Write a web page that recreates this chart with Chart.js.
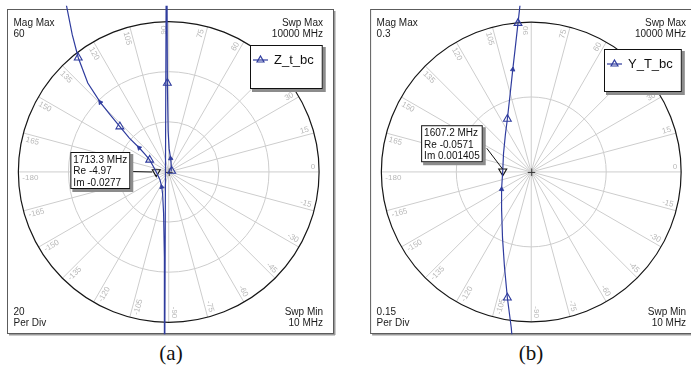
<!DOCTYPE html>
<html>
<head>
<meta charset="utf-8">
<title>Z_t_bc / Y_T_bc polar plots</title>
<script src="https://cdn.jsdelivr.net/npm/chart.js@4.4.1/dist/chart.umd.min.js"></script>
<style>
  html, body { margin:0; padding:0; background:#fff; }
  body { position:relative; width:691px; height:376px; overflow:hidden; }
  canvas { position:absolute; top:0; }
  #polarZ { left:0; }
  #polarY { left:345px; }
  .caption { position:absolute; top:341px; width:60px; margin-left:-30px; text-align:center;
             font:21px "Liberation Serif","Times New Roman",serif; color:#111; }
</style>
</head>
<body>
<canvas id="polarZ" width="345" height="340"></canvas>
<canvas id="polarY" width="346" height="340"></canvas>
<div class="caption" style="left:171px">(a)</div>
<div class="caption" style="left:531px">(b)</div>
<script>
// Angle ticks of the polar grid, degrees
const angleTicks = [0, 15, 30, 45, 60, 75, 90, 105, 120, 135, 150, 165,
                    -180, -165, -150, -135, -120, -105, -90, -75, -60, -45, -30, -15];
const sweepMin = '10 MHz';
const sweepMax = '10000 MHz';

// Z_t_bc trace (ohm): real and imaginary parts in sweep order
const zRe = [1.2, 1.0, 0.75, 0.15, -0.23, -0.54, -0.85, -1.75, -1.68, -1.78, -2.05, -2.43, -2.8, -3.5,
             -4.97, -6.2, -7.6, -9.6, -11.8, -15.7, -19.5, -23.5, -27.3, -32.3, -36.1, -38.5, -40.8, -43];
const zIm = [0.4, 2.8, 5.4, 9.3, 16.2, 35.5, 120, -120, -66.8, -34, -16.6, -8.9, -6.0, -3.1,
             -0.0277, 2.3, 4.8, 7.2, 9.65, 13.5, 18.1, 23, 27.8, 35.5, 45.6, 54.8, 66.4, 78];
const zSweepMarks = [0, 5, 16, 20, 24];   // samples carrying a sweep marker
const zArrows = [2, 12, 18, 22];          // samples carrying a direction arrow
const zMarkerFreq = '1713.3 MHz';
const zMarkerRe = -4.97;
const zMarkerIm = -0.0277;
const zMagMax = 60;
const zPerDiv = 20;

// Y_T_bc trace (S): real and imaginary parts in sweep order
const yRe = [-0.0381, -0.0400, -0.0478, -0.0536, -0.0575, -0.0594, -0.0594, -0.0571,
             -0.0555, -0.0517, -0.0478, -0.0430, -0.0370, -0.0323, -0.0265, -0.0226, -0.0200];
const yIm = [-0.335, -0.312, -0.252, -0.190, -0.132, -0.0735, -0.0348, 0.001405,
             0.0368, 0.0755, 0.106, 0.149, 0.205, 0.246, 0.298, 0.333, 0.36];
const ySweepMarks = [2, 10, 14];
const yArrows = [6, 12];
const yMarkerFreq = '1607.2 MHz';
const yMarkerRe = -0.0571;
const yMarkerIm = 0.001405;
const yMagMax = 0.3;
const yPerDiv = 0.15;

const TRACE = '#2f3c9e';
const FONT = '"Liberation Sans", Arial, sans-serif';

function triPath(ctx, x, y, r, down) {
  const s = down ? -1 : 1;
  ctx.beginPath();
  ctx.moveTo(x, y - s * r);
  ctx.lineTo(x + r * 0.866, y + s * r * 0.5);
  ctx.lineTo(x - r * 0.866, y + s * r * 0.5);
  ctx.closePath();
}

function shadowBox(ctx, x, y, w, h) {
  ctx.fillStyle = '#8c8c8c';
  ctx.fillRect(x + 2, y + 2, w + 1, h + 1);
  ctx.fillStyle = '#fff';
  ctx.fillRect(x, y, w, h);
  ctx.strokeStyle = '#111';
  ctx.lineWidth = 1;
  ctx.strokeRect(x + 0.5, y + 0.5, w - 1, h - 1);
}

// Polar grid, frame, corner notes, legend and marker callout
const polarPanel = {
  id: 'polarPanel',
  beforeDatasetsDraw(chart, args, o) {
    const { ctx, scales: { x, y } } = chart;
    const cx = x.getPixelForValue(0), cy = y.getPixelForValue(0);
    const R = x.getPixelForValue(o.magMax) - cx;
    ctx.save();

    // frame
    const f = o.frame;
    ctx.fillStyle = '#9a9a9a';
    ctx.fillRect(f.r, f.t + 2, 2.5, f.b - f.t);
    ctx.fillRect(f.l + 2, f.b, f.r - f.l, 2.5);
    ctx.strokeStyle = '#5c5c5c';
    ctx.lineWidth = 1;
    ctx.strokeRect(f.l + 0.5, f.t + 0.5, f.r - f.l, f.b - f.t);

    // spokes
    ctx.strokeStyle = '#cdcdcd';
    ctx.lineWidth = 1;
    angleTicks.forEach(a => {
      const t = a * Math.PI / 180;
      ctx.beginPath();
      ctx.moveTo(cx, cy);
      ctx.lineTo(cx + R * Math.cos(t), cy - R * Math.sin(t));
      ctx.stroke();
    });
    // magnitude rings
    for (let m = o.perDiv; m < o.magMax - 1e-9; m += o.perDiv) {
      const r = x.getPixelForValue(m) - cx;
      ctx.beginPath();
      ctx.arc(cx, cy, r, 0, Math.PI * 2);
      ctx.stroke();
    }
    // outer circle
    ctx.strokeStyle = '#161616';
    ctx.lineWidth = 1.2;
    ctx.beginPath();
    ctx.arc(cx, cy, R, 0, Math.PI * 2);
    ctx.stroke();

    // angle labels along the spokes
    ctx.font = '8px ' + FONT;
    ctx.fillStyle = '#b8b8b8';
    angleTicks.forEach(a => {
      const t = a * Math.PI / 180;
      ctx.save();
      ctx.translate(cx, cy);
      ctx.rotate(-t);
      if (a >= -90 && a <= 90) {
        ctx.textAlign = 'right';
        ctx.textBaseline = 'bottom';
        ctx.fillText(String(a), R - 4, -1);
      } else {
        ctx.rotate(Math.PI);
        ctx.textAlign = 'left';
        ctx.textBaseline = 'top';
        ctx.fillText(String(a), -(R - 4), 1.5);
      }
      ctx.restore();
    });

    // center cross
    ctx.strokeStyle = '#333';
    ctx.lineWidth = 1;
    ctx.beginPath();
    ctx.moveTo(cx - 3.5, cy + 0.5); ctx.lineTo(cx + 4, cy + 0.5);
    ctx.moveTo(cx + 0.5, cy - 3.5); ctx.lineTo(cx + 0.5, cy + 4);
    ctx.stroke();

    // corner notes
    ctx.font = '10px ' + FONT;
    ctx.fillStyle = '#1a1a1a';
    ctx.textBaseline = 'alphabetic';
    const lx = f.l + 6.5, rx = f.r - 10;
    ctx.textAlign = 'left';
    ctx.fillText('Mag Max', lx, 25.5);
    ctx.fillText(String(o.magMax), lx, 36.5);
    ctx.fillText(String(o.perDiv), lx, 315);
    ctx.fillText('Per Div', lx, 326);
    ctx.textAlign = 'right';
    ctx.fillText('Swp Max', rx, 25.5);
    ctx.fillText(sweepMax, rx, 36.5);
    ctx.fillText('Swp Min', rx, 315);
    ctx.fillText(sweepMin, rx, 326);
    ctx.restore();
  },
  afterDatasetsDraw(chart, args, o) {
    const { ctx } = chart;
    ctx.save();

    // legend
    const L = o.legend;
    ctx.font = '13px ' + FONT;
    const tw = ctx.measureText(o.name).width;
    const lw = 25 + tw + 8;
    shadowBox(ctx, L.x, L.y, lw, L.h);
    const ly = L.y + 15;
    ctx.strokeStyle = TRACE;
    ctx.lineWidth = 1.2;
    ctx.beginPath();
    ctx.moveTo(L.x + 3, ly); ctx.lineTo(L.x + 18, ly);
    ctx.stroke();
    triPath(ctx, L.x + 10.5, ly, 4, false);
    ctx.stroke();
    ctx.fillStyle = '#111';
    ctx.textAlign = 'left';
    ctx.textBaseline = 'middle';
    ctx.fillText(o.name, L.x + 24, ly);

    // marker callout
    const mk = chart.getDatasetMeta(3).data[0];
    const C = o.callout;
    const lines = [C.freq, 'Re ' + C.re, 'Im ' + C.im];
    ctx.font = '10px ' + FONT;
    const bw = Math.max(...lines.map(s => ctx.measureText(s).width)) + 6;
    const bh = 37;
    const bx = mk.x + C.dx - bw, by = mk.y + C.dy;
    ctx.strokeStyle = '#111';
    ctx.lineWidth = 1;
    ctx.beginPath();
    ctx.moveTo(bx + bw + C.from[0], by + C.from[1]);
    ctx.lineTo(mk.x + C.to[0], mk.y + C.to[1]);
    ctx.stroke();
    shadowBox(ctx, bx, by, bw, bh);
    ctx.fillStyle = '#111';
    ctx.textAlign = 'left';
    ctx.textBaseline = 'alphabetic';
    lines.forEach((s, i) => ctx.fillText(s, bx + 3, by + 11 + i * 11.3));
    ctx.restore();
  }
};

function buildPolar(id, d) {
  const el = document.getElementById(id);
  const W = el.width, H = el.height;
  const k = d.radiusPx / d.magMax;
  const pts = d.re.map((r, i) => ({ x: r, y: d.im[i] }));
  const pick = list => list.map(i => pts[i]);
  const arrowRot = d.arrows.map(i =>
    Math.atan2(d.re[i + 1] - d.re[i - 1], d.im[i + 1] - d.im[i - 1]) * 180 / Math.PI);
  return new Chart(el, {
    type: 'scatter',
    data: {
      datasets: [
        { label: d.name, data: pts, showLine: true, borderColor: TRACE, borderWidth: 1.2,
          pointRadius: 0, tension: 0 },
        { data: pick(d.sweepMarks), pointStyle: 'triangle', pointRadius: 4.5,
          borderColor: TRACE, backgroundColor: 'rgba(0,0,0,0)', borderWidth: 1.1 },
        { data: pick(d.arrows), pointStyle: 'triangle', pointRadius: 2.6, pointRotation: arrowRot,
          borderColor: TRACE, backgroundColor: TRACE, borderWidth: 0.8 },
        { data: [{ x: d.markerRe, y: d.markerIm }], pointStyle: 'triangle', pointRadius: 4.6,
          pointRotation: 180, borderColor: '#111', backgroundColor: 'rgba(0,0,0,0)', borderWidth: 1.1 }
      ]
    },
    options: {
      responsive: false,
      animation: false,
      devicePixelRatio: 1,
      layout: { padding: 0 },
      events: [],
      scales: {
        x: { type: 'linear', display: false, min: -d.cx / k, max: (W - d.cx) / k },
        y: { type: 'linear', display: false, min: -(H - d.cy) / k, max: d.cy / k }
      },
      plugins: {
        legend: { display: false },
        tooltip: { enabled: false },
        polarPanel: {
          name: d.name, magMax: d.magMax, perDiv: d.perDiv,
          frame: { l: d.cx - 161.6, r: d.cx + 164.4, t: 9, b: 333 },
          legend: d.legend,
          callout: d.callout
        }
      }
    },
    plugins: [polarPanel]
  });
}

buildPolar('polarZ', {
  name: 'Z_t_bc', re: zRe, im: zIm, sweepMarks: zSweepMarks, arrows: zArrows,
  markerRe: zMarkerRe, markerIm: zMarkerIm, magMax: zMagMax, perDiv: zPerDiv,
  cx: 168.6, cy: 172, radiusPx: 155.5,
  legend: { x: 250, y: 45, h: 44 },
  callout: { freq: zMarkerFreq, re: zMarkerRe, im: zMarkerIm, dx: -26, dy: -20, from: [0, 19.5], to: [-4, 0] }
});

buildPolar('polarY', {
  name: 'Y_T_bc', re: yRe, im: yIm, sweepMarks: ySweepMarks, arrows: yArrows,
  markerRe: yMarkerRe, markerIm: yMarkerIm, magMax: yMagMax, perDiv: yPerDiv,
  cx: 186.7, cy: 172, radiusPx: 155,
  legend: { x: 259, y: 49, h: 43 },
  callout: { freq: yMarkerFreq, re: yMarkerRe, im: yMarkerIm, dx: -20, dy: -46, from: [4, 23], to: [0, -2] }
});
</script>
</body>
</html>
